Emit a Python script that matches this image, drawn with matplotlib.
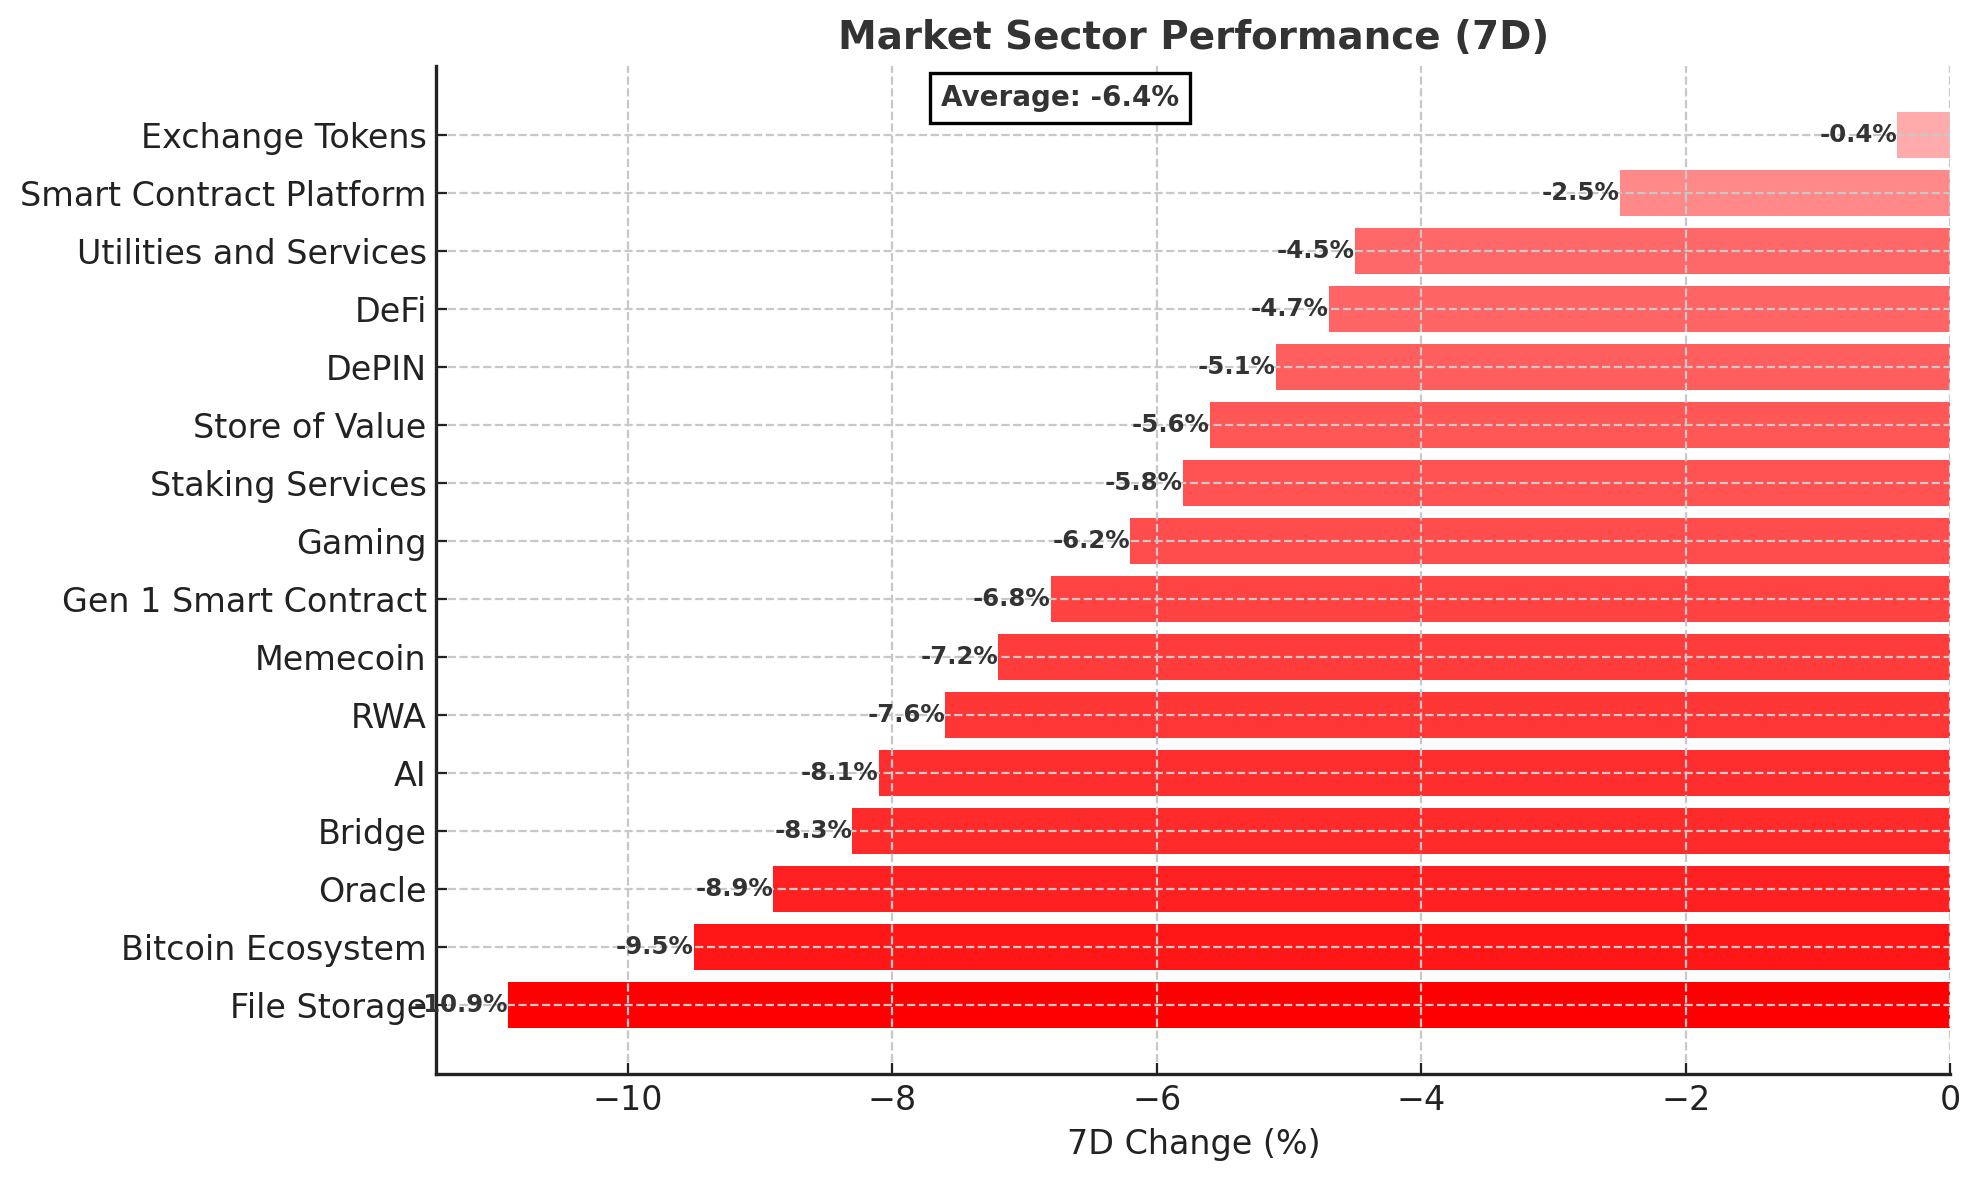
import numpy as np
import matplotlib
matplotlib.use("Agg")
import matplotlib.pyplot as plt

sectors = ["File Storage", "Bitcoin Ecosystem", "Oracle", "Bridge", "AI", "RWA",
           "Memecoin", "Gen 1 Smart Contract", "Gaming", "Staking Services",
           "Store of Value", "DePIN", "DeFi", "Utilities and Services",
           "Smart Contract Platform", "Exchange Tokens"]
change_7d = [-10.9, -9.5, -8.9, -8.3, -8.1, -7.6, -7.2, -6.8, -6.2, -5.8,
             -5.6, -5.1, -4.7, -4.5, -2.5, -0.4]

vals = np.array(change_7d)
avg = vals.mean()

# lighter red for smaller losses
norm = (vals - vals.min()) / (vals.max() - vals.min())
colors = [(1.0, 0.67 * n, 0.67 * n) for n in norm]

fig, ax = plt.subplots(figsize=(9.895, 5.9), dpi=200)
fig.subplots_adjust(left=0.2205, right=0.9855, top=0.944, bottom=0.090)

ax.barh(sectors, vals, color=colors, height=0.8)

for i, v in enumerate(vals):
    ax.text(v, i, f"{v:.1f}%", ha="right", va="center", fontsize=8.8,
            fontweight="bold", color="#333333")

ax.text(0.412, 0.968, f"Average: {avg:.1f}%", transform=ax.transAxes,
        ha="center", va="center", fontsize=10, fontweight="bold", color="#333333",
        bbox=dict(facecolor="white", edgecolor="black", linewidth=1.2, pad=4))

ax.set_title("Market Sector Performance (7D)", fontsize=14, fontweight="bold",
             color="#333333")
ax.set_xlabel("7D Change (%)", fontsize=12, color="#222222")

ax.grid(True, linestyle="--", color="#c8c8c8", linewidth=0.8)
ax.set_axisbelow(False)
for s in ["top", "right"]:
    ax.spines[s].set_visible(False)
for s in ["left", "bottom"]:
    ax.spines[s].set_linewidth(1.2)
    ax.spines[s].set_color("#222222")
ax.tick_params(axis="x", direction="in", labelsize=12, length=4, colors="#222222")
ax.tick_params(axis="y", direction="in", labelsize=12, length=4, colors="#222222")

fig.savefig("out.png", dpi=200)
